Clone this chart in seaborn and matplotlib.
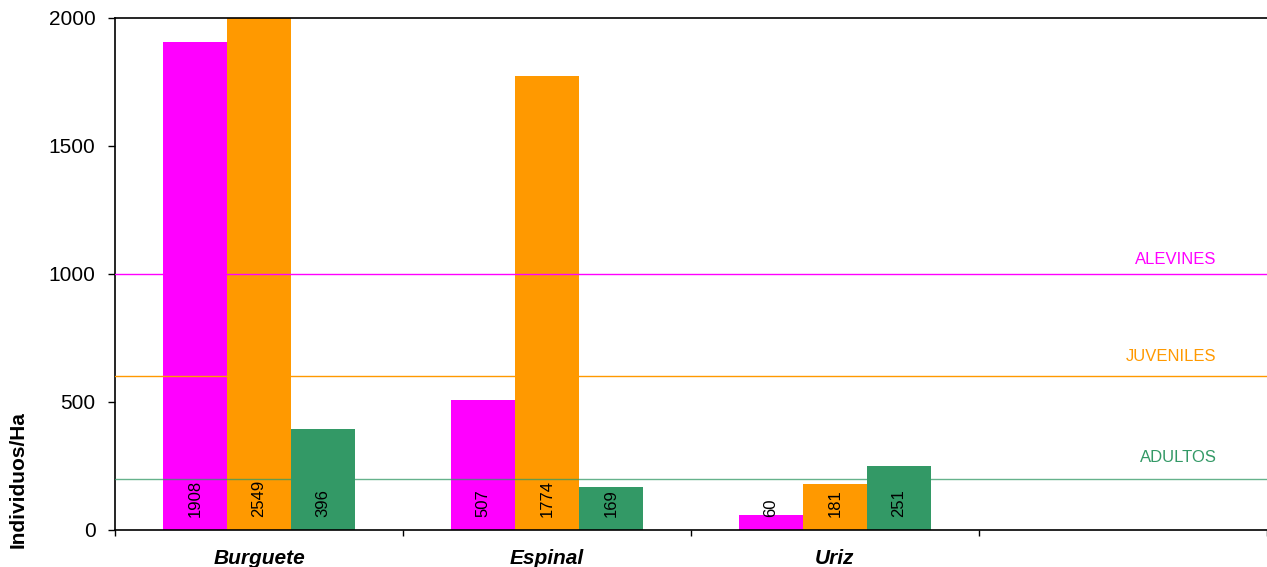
import pandas as pd
import matplotlib
matplotlib.use('Agg')
import matplotlib.pyplot as plt
import seaborn as sns

# Data
sites = ['Burguete', 'Espinal', 'Uriz']
stages = ['ALEVINES', 'JUVENILES', 'ADULTOS']
alevines = [1908, 507, 60]
juveniles = [2549, 1774, 181]
adultos = [396, 169, 251]
thresholds = [1000, 600, 200]  # reference lines, one per stage

colors = ['#FF00FF', '#FF9900', '#339966']

# Long table for seaborn
rows = []
for stage, vals in zip(stages, [alevines, juveniles, adultos]):
    for site, v in zip(sites, vals):
        rows.append({'Site': site, 'Stage': stage, 'Value': v})
df = pd.DataFrame(rows)

sns.set_style('white')
plt.rcParams['font.family'] = ['Liberation Sans', 'DejaVu Sans']
plt.rcParams['text.color'] = 'black'
plt.rcParams['axes.labelcolor'] = 'black'
plt.rcParams['xtick.color'] = 'black'
plt.rcParams['ytick.color'] = 'black'

fig = plt.figure(figsize=(12.67, 5.67), dpi=100)
ax = fig.add_axes([0.0908, 0.0653, 0.909, 0.9030])

sns.barplot(data=df, x='Site', y='Value', hue='Stage', hue_order=stages,
            order=sites, palette=colors, width=2 / 3, linewidth=0,
            saturation=1, legend=False, ax=ax)

ax.set_xlim(-0.5, 3.5)
ax.set_ylim(0, 2000)
ax.set_yticks([0, 500, 1000, 1500, 2000])

# Threshold lines with labels on the right
label_offsets = [5, 9, 10]
for stage, t, c, off in zip(stages, thresholds, colors, label_offsets):
    ax.axhline(t, color=c, lw=1.0, alpha=0.75 if c == '#339966' else 1, zorder=3)
    ax.annotate(stage, xy=(0.9566, t), xycoords=('axes fraction', 'data'),
                xytext=(0, off), textcoords='offset points',
                ha='right', va='bottom', color=c, fontsize=12)

# Value labels near the bottom of each bar
for cont, vals in zip(ax.containers, [alevines, juveniles, adultos]):
    for bar, v in zip(cont, vals):
        ax.annotate(str(v), xy=(bar.get_x() + bar.get_width() / 2, 0),
                    xytext=(0, 9), textcoords='offset points',
                    rotation=90, ha='center', va='bottom', fontsize=12,
                    color='black', zorder=4)

# Category ticks between groups, labels at group centres
ax.set_xticks([-0.5, 0.5, 1.5, 2.5, 3.5])
ax.set_xticklabels([])
ax.set_xticks([0, 1, 2], minor=True)
ax.set_xticklabels(sites, minor=True, fontsize=15, fontweight='bold', fontstyle='italic')
ax.tick_params(axis='x', which='major', direction='out', length=4, width=1, bottom=True)
ax.tick_params(axis='x', which='minor', length=0, pad=14)
ax.tick_params(axis='y', direction='out', length=5, width=1, left=True, labelsize=15, pad=9)

ax.set_xlabel('')
ax.set_ylabel('Individuos/Ha', fontsize=15, fontweight='bold')
ax.yaxis.set_label_coords(-0.076, 0.098)

for side in ['left', 'bottom', 'top']:
    ax.spines[side].set_visible(True)
    ax.spines[side].set_color('black')
    ax.spines[side].set_linewidth(1.2)
ax.spines['right'].set_visible(False)

fig.savefig('out.png', dpi=100)
